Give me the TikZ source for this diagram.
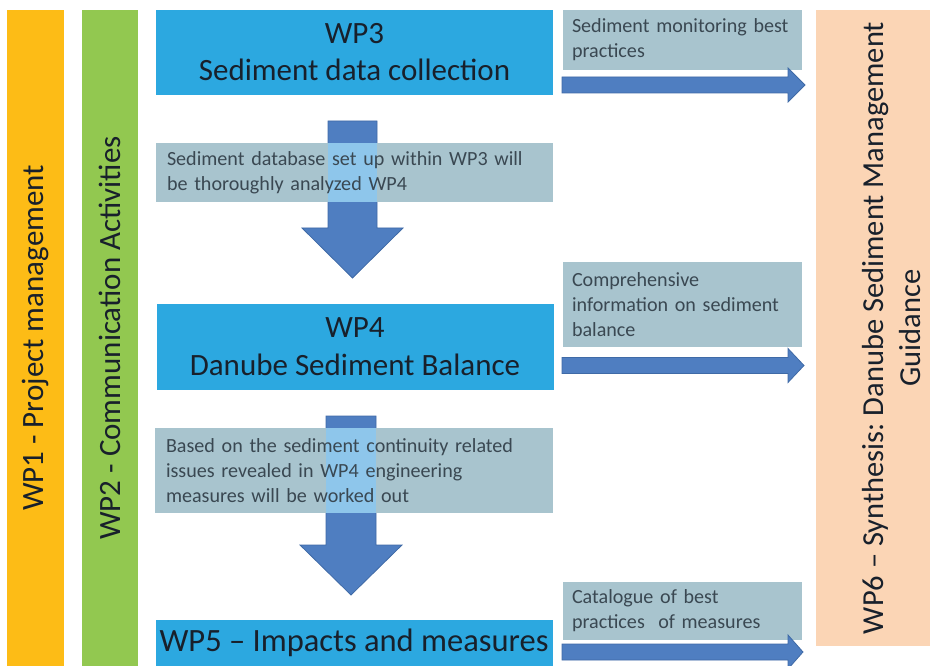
\documentclass[tikz,border=0pt]{standalone}
\usepackage{fontspec}
\setmainfont{Carlito}
\usetikzlibrary{backgrounds}
\definecolor{wporange}{HTML}{FDBC16}
\definecolor{wpgreen}{HTML}{92C850}
\definecolor{wpblue}{HTML}{2CA8E0}
\definecolor{wpgray}{HTML}{A8C4CE}
\definecolor{wparrow}{HTML}{4F7EC1}
\definecolor{wparrowedge}{HTML}{3F6AA6}
\definecolor{wplight}{HTML}{8EC6EB}
\definecolor{wppeach}{HTML}{FBD5B5}
\definecolor{titletext}{HTML}{18202B}
\definecolor{graytext}{HTML}{3A4852}
\frenchspacing
\begin{document}
\begin{tikzpicture}[x=1pt,y=-1pt,
  vbar/.style={rotate=90,inner sep=0pt,text=titletext,
    font=\fontsize{31}{37}\selectfont,align=center},
  bluebox/.style={fill=wpblue,inner sep=0pt,minimum width=397pt,
    text=titletext,align=center},
  graybox/.style={inner sep=0pt,text=graytext,align=left,
    font=\fontsize{20.1}{25}\selectfont},
  fatarrow/.style={fill=wparrow,draw=wparrowedge,line width=0.8pt,line join=miter}]
\useasboundingbox (0,0) rectangle (930,666);
\clip (0,0) rectangle (930,666);

% side bars
\node[vbar,fill=wporange,minimum width=656pt,minimum height=57pt] (wp1) at (35.5,338) {WP1 - Project management};
\node[vbar,fill=wpgreen,minimum width=656pt,minimum height=56pt] (wp2) at (110,338) {WP2 - Communication Activities};
\node[vbar,fill=wppeach,minimum width=636pt,minimum height=152pt,font=\fontsize{30.5}{37}\selectfont] (wp6) at (892,328) {WP6 – Synthesis: Danube Sediment Management\\Guidance};

% work package boxes
\node[bluebox,minimum height=85pt,font=\fontsize{31}{37}\selectfont] (wp3) at (354.5,52.5) {WP3\\Sediment data collection};
\node[bluebox,minimum height=86pt,font=\fontsize{31}{38}\selectfont] (wp4) at (355,347) {WP4\\Danube Sediment Balance};
\node[bluebox,minimum height=46pt,font=\fontsize{32.5}{38}\selectfont] (wp5) at (354,643) {WP5 – Impacts and measures};

% grey text boxes (fills on background layer)
\node[graybox,minimum width=397pt,minimum height=59pt,text width=375pt] (g1) at (354.5,172.5)
  {\mbox{Sediment database set up within WP3 will}\\be thoroughly analyzed WP4};
\node[graybox,minimum width=398pt,minimum height=85pt,text width=376pt] (g2) at (354,470.5)
  {\mbox{Based on the sediment continuity related}\\issues revealed in WP4 engineering\\measures will be worked out};
\node[graybox,minimum width=239pt,minimum height=60pt,text width=221pt] (r1) at (682.5,40)
  {\mbox{Sediment monitoring best}\\practices};
\node[graybox,minimum width=239pt,minimum height=85pt,text width=221pt] (r2) at (682.5,304.5)
  {Comprehensive\\\mbox{information on sediment}\\balance};
\node[graybox,minimum width=239pt,minimum height=58pt,text width=221pt] (r3) at (682.5,611)
  {Catalogue of best\\\mbox{practices\ \ of measures}};

\begin{scope}[on background layer]
  % down arrows
  \filldraw[fatarrow] (328,121) -- (377,121) -- (377,228) -- (403,228) -- (352.5,278)
    -- (302,228) -- (328,228) -- cycle;
  \filldraw[fatarrow] (326,416) -- (376,416) -- (376,545) -- (402,545) -- (351,595)
    -- (300,545) -- (326,545) -- cycle;
  % grey boxes
  \foreach \b in {g1,g2,r1,r2,r3}
    \fill[wpgray] (\b.north west) rectangle (\b.south east);
  % overlap of arrow shafts with grey boxes
  \fill[wplight] (328,0 |- g1.north) rectangle (377,0 |- g1.south);
  \fill[wplight] (326,0 |- g2.north) rectangle (376,0 |- g2.south);
  % right arrows towards WP6
  \filldraw[fatarrow] (562,77) -- (788,77) -- (788,68) -- (805,85) -- (788,102)
    -- (788,93) -- (562,93) -- cycle;
  \filldraw[fatarrow] (562,357.5) -- (788,357.5) -- (788,348.5) -- (804,365.5) -- (788,382.5)
    -- (788,373.5) -- (562,373.5) -- cycle;
  \filldraw[fatarrow] (562,644) -- (788,644) -- (788,635) -- (803,652) -- (788,669)
    -- (788,660) -- (562,660) -- cycle;
\end{scope}
\end{tikzpicture}
\end{document}
